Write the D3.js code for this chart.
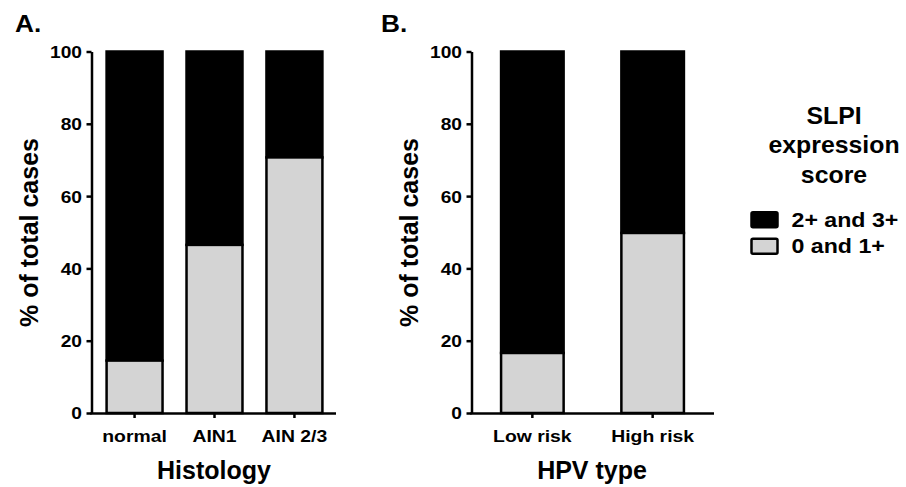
<!DOCTYPE html>
<html><head><meta charset="utf-8">
<script src="https://cdn.jsdelivr.net/npm/d3@7"></script>
<style>
body{margin:0;background:#fff}
svg{display:block}
text{font-family:"Liberation Sans",Arial,sans-serif;font-weight:bold;fill:#000}
</style>
</head><body><svg id="c" width="906" height="487"></svg>
<script>
// ---- data ----
const histCategories = ["normal", "AIN1", "AIN 2/3"];
const histLowScore = [14.5, 46.5, 70.7];      // "0 and 1+" (%)
const histHighScore = [85.5, 53.5, 29.3];     // "2+ and 3+" (%)
const hpvCategories = ["Low risk", "High risk"];
const hpvLowScore = [16.6, 49.8];
const hpvHighScore = [83.4, 50.2];
const yTickValues = [0, 20, 40, 60, 80, 100];
const seriesNames = ["2+ and 3+", "0 and 1+"];
const seriesKeys = ["high", "low"];
const seriesColors = ["#000000", "#d4d4d4"];
const legendTitle = ["SLPI", "expression", "score"];

const svg = d3.select("#c");

function label(parent, x, y, txt, size, anchor, sx, rot) {
  const g = parent.append("g")
    .attr("transform", `translate(${x},${y})${rot ? ` rotate(${rot})` : ""} scale(${sx},1)`);
  g.append("text").attr("text-anchor", anchor).style("font-size", size + "px").text(txt);
  return g;
}

const y = d3.scaleLinear().domain([0, 100]).range([413, 51.5]);
const color = d3.scaleOrdinal().domain(seriesKeys).range(seriesColors);

function panel(opts) {
  const rows = opts.cats.map((c, i) => ({cat: c, low: opts.low[i], high: opts.high[i]}));
  const x = d3.scaleBand().domain(opts.cats).range(opts.xRange)
    .paddingInner(opts.pi).paddingOuter(opts.po);
  const stack = d3.stack().keys(["low", "high"])(rows);
  const g = svg.append("g");

  g.selectAll("g.series").data(stack.slice().reverse()).join("g")
    .attr("class", "series")
    .attr("fill", d => color(d.key))
    .selectAll("rect").data(d => d).join("rect")
    .attr("x", d => x(d.data.cat))
    .attr("width", x.bandwidth())
    .attr("y", d => y(d[1]))
    .attr("height", d => y(d[0]) - y(d[1]))
    .attr("stroke", "#000").attr("stroke-width", 2.5);

  const ya = g.append("g").attr("transform", `translate(${opts.axisX},0)`)
    .call(d3.axisLeft(y).tickValues(yTickValues).tickSize(5).tickSizeOuter(0).tickPadding(4));
  ya.selectAll("path,line").attr("stroke", "#000").attr("stroke-width", 2.5);
  ya.selectAll(".tick text").style("font-size", "17px").attr("fill", "#000")
    .attr("x", -9.5 / 1.13).attr("dy", "0.35em").attr("transform", "scale(1.13,1)");
  ya.attr("font-family", null).attr("font-size", null);

  const xa = g.append("g").attr("transform", `translate(0,413)`)
    .call(d3.axisBottom(x).tickSize(5).tickSizeOuter(0).tickPadding(12));
  xa.select(".domain").attr("d", `M${opts.axisX - 1.2},0.5H${opts.xRange[1]}`);
  xa.selectAll("path,line").attr("stroke", "#000").attr("stroke-width", 2.5);
  xa.selectAll(".tick text").style("font-size", "17px").attr("fill", "#000")
    .attr("transform", "scale(1.14,1)");
  xa.attr("font-family", null).attr("font-size", null);

  label(svg, opts.yTitleX, 232.5, "% of total cases", 25, "middle", 1.0, -90);
  label(svg, opts.xTitleX, 478.5, opts.xTitle, 25, "middle", 1.0);
  label(svg, opts.tagX, 32, opts.tag, 23, "start", 1.14);
}

panel({cats: histCategories, low: histLowScore, high: histHighScore,
  xRange: [93, 336], pi: 0.3, po: 0.17, axisX: 91.5,
  yTitleX: 38, xTitleX: 214, xTitle: "Histology", tagX: 15, tag: "A."});
panel({cats: hpvCategories, low: hpvLowScore, high: hpvHighScore,
  xRange: [471, 714], pi: 0.48, po: 0.25, axisX: 471.5,
  yTitleX: 418, xTitleX: 592, xTitle: "HPV type", tagX: 381, tag: "B."});

// legend
const lg = svg.append("g");
legendTitle.forEach((t, i) => label(lg, 834, 123.5 + i * 29.8, t, 23, "middle", 1.08));
seriesNames.forEach((n, i) => {
  const cy = 219.7 + i * 26.5;
  lg.append("rect").attr("x", 751.5).attr("y", cy - 7.5).attr("width", 26).attr("height", 15)
    .attr("rx", 1.5).attr("fill", seriesColors[i]).attr("stroke", "#000").attr("stroke-width", 2.5);
  label(lg, 791.5, cy + 7, n, 20.5, "start", 1.13);
});
</script>
</body></html>
